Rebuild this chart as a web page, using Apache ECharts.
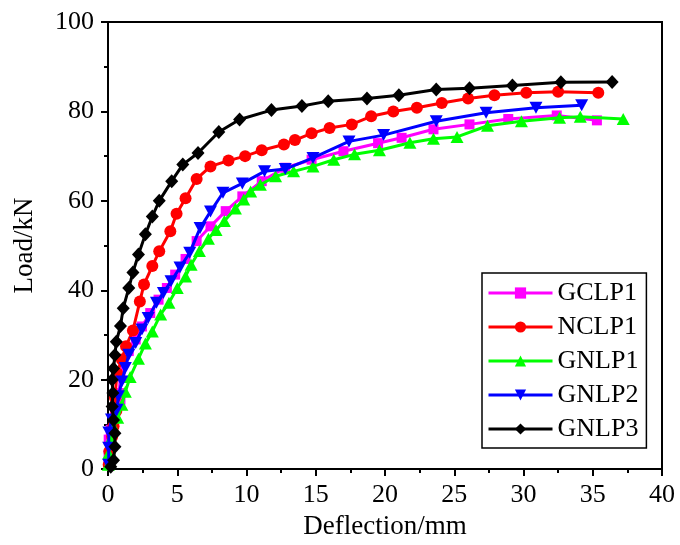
<!DOCTYPE html>
<html>
<head>
<meta charset="utf-8">
<script src="https://cdn.jsdelivr.net/npm/echarts@6/dist/echarts.min.js"></script>
<style>
  html, body { margin: 0; padding: 0; background: #fff; }
  #chart { width: 680px; height: 545px; }
</style>
</head>
<body>
<div id="chart"></div>
<script>
// load-deflection curves, [deflection mm, load kN]
var gclp1 = [[0.04,1],[0.04,3.2],[0.05,6.6],[0.2,8.8],[0.5,11.8],[0.9,15.5],[0.8,17],[0.9,20.8],[1.1,23.8],[1.5,26.4],[2.0,29],[2.45,31.9],[3.05,34.9],[3.65,37.9],[4.25,40.5],[4.85,43.5],[5.6,47],[6.4,51],[7.4,54.3],[8.5,57.7],[9.7,61],[11.1,64.4],[12.8,67.4],[14.7,69.2],[17,71.1],[19.5,72.9],[21.2,74.1],[23.5,76],[26.1,77.1],[28.9,78.3],[32.4,79.1],[35.3,78]];
var nclp1 = [[0.05,1],[0.1,4],[0.3,7.3],[0.4,9.6],[0.6,13],[0.5,16],[0.65,21.5],[1.0,24.5],[1.3,27.5],[1.8,31],[2.3,37.5],[2.6,41.3],[3.2,45.4],[3.7,48.7],[4.5,53.2],[4.95,57.1],[5.6,60.6],[6.4,64.9],[7.4,67.7],[8.7,69],[9.9,70],[11.1,71.3],[12.7,72.6],[13.5,73.6],[14.7,75.1],[16,76.3],[17.6,77.1],[19,78.9],[20.6,80],[22.3,80.8],[24.1,81.9],[26,82.9],[27.9,83.6],[30.2,84.2],[32.5,84.4],[35.4,84.2]];
var gnlp1 = [[0.03,1],[0.05,3.5],[0.17,6.6],[0.4,9.3],[0.7,11.5],[1.0,14.4],[1.25,17.3],[1.6,20.6],[2.2,24.7],[2.7,28.1],[3.2,30.8],[3.8,34.6],[4.4,37.2],[5.0,40.5],[5.6,43.1],[6.0,45.7],[6.6,48.8],[7.25,51.5],[7.8,53.5],[8.4,55.5],[9.2,58.3],[9.8,60.3],[10.3,62.1],[11,63.6],[12.1,65.5],[13.4,66.6],[14.8,67.7],[16.3,69.2],[17.8,70.4],[19.6,71.3],[21.8,73],[23.5,73.9],[25.2,74.3],[27.4,76.8],[29.85,77.8],[32.6,78.6],[34.1,78.8],[37.2,78.3]];
var gnlp2 = [[0.05,1],[0.05,4.8],[0.06,8.2],[0.25,11.1],[0.65,13.3],[0.75,16.3],[1.0,19.6],[1.25,22.6],[1.5,25.6],[2.0,28.2],[2.45,31.2],[2.9,33.8],[3.5,37.2],[4.0,39.4],[4.55,42],[5.2,45.1],[5.9,48.4],[6.65,53.9],[7.4,57.6],[8.3,61.8],[9.7,63.9],[11.3,66.6],[12.8,67.1],[14.8,69.6],[17.4,73.3],[19.9,74.7],[23.7,77.8],[27.3,79.7],[30.9,80.8],[34.2,81.4]];
var gnlp3 = [[0.2,0.5],[0.4,2],[0.5,5],[0.5,8],[0.4,11],[0.3,14],[0.35,17],[0.3,20],[0.4,22.5],[0.5,25.5],[0.6,28.5],[0.9,32],[1.1,36],[1.5,40.5],[1.8,44],[2.2,48],[2.7,52.5],[3.2,56.5],[3.7,60],[4.6,64.4],[5.4,68.1],[6.5,70.7],[8,75.4],[9.5,78.2],[11.8,80.3],[14,81.2],[15.9,82.3],[18.7,82.9],[21,83.6],[23.7,84.9],[26.1,85.2],[29.2,85.8],[32.7,86.5],[36.4,86.6]];

var seriesNames = ['GCLP1', 'NCLP1', 'GNLP1', 'GNLP2', 'GNLP3'];
var seriesData = [gclp1, nclp1, gnlp1, gnlp2, gnlp3];
var seriesColors = ['#ff00ff', '#ff0000', '#00ff00', '#0000ff', '#000000'];
var seriesSymbols = ['rect', 'circle', 'triangle', 'triangle', 'diamond'];
var symbolSizes = [10, 12, [13, 12], [13, 12], [13, 14]];
var symbolRotates = [0, 0, 0, 180, 0];

var FONT = '"Liberation Serif", "Times New Roman", serif';

var chart = echarts.init(document.getElementById('chart'), null, { renderer: 'canvas' });

// common axis look
function axisOpt(min, max, interval, name, nameGap, labelMargin) {
    return {
        type: 'value',
        min: min,
        max: max,
        interval: interval,
        name: name,
        nameLocation: 'middle',
        nameGap: nameGap,
        nameTextStyle: { fontFamily: FONT, fontSize: 27, color: '#000' },
        axisLine: { show: true, onZero: false, lineStyle: { color: '#000', width: 2 } },
        axisTick: { show: true, inside: false, length: 7, lineStyle: { color: '#000', width: 2 } },
        minorTick: { show: true, splitNumber: 2, length: 4, lineStyle: { color: '#000', width: 2 } },
        axisLabel: { fontFamily: FONT, fontSize: 26, color: '#000', margin: labelMargin },
        splitLine: { show: false },
        minorSplitLine: { show: false }
    };
}

var series = seriesNames.map(function (name, i) {
    return {
        name: name,
        type: 'line',
        data: seriesData[i],
        symbol: seriesSymbols[i],
        symbolSize: symbolSizes[i],
        symbolRotate: symbolRotates[i],
        showAllSymbol: true,
        color: seriesColors[i],
        lineStyle: { width: 3, color: seriesColors[i] },
        itemStyle: { color: seriesColors[i] },
        z: 2 + i
    };
});

chart.setOption({
    animation: false,
    backgroundColor: '#fff',
    grid: {
        left: 108,
        right: 18,
        top: 22,
        bottom: 75,
        show: true,
        borderColor: '#000',
        borderWidth: 2,
        backgroundColor: 'transparent'
    },
    xAxis: axisOpt(0, 40, 5, 'Deflection/mm', 41, 13),
    yAxis: axisOpt(0, 100, 20, 'Load/kN', 70, 14),
    legend: {
        orient: 'vertical',
        left: 482,
        top: 273,
        padding: [7, 8, 6, 5],
        itemGap: 8,
        itemWidth: 64,
        itemHeight: 14,
        borderColor: '#000',
        borderWidth: 1.5,
        backgroundColor: '#fff',
        lineStyle: { width: 3 },
        textStyle: { fontFamily: FONT, fontSize: 26, color: '#000' },
        data: seriesNames
    },
    series: series
});
</script>
</body>
</html>
